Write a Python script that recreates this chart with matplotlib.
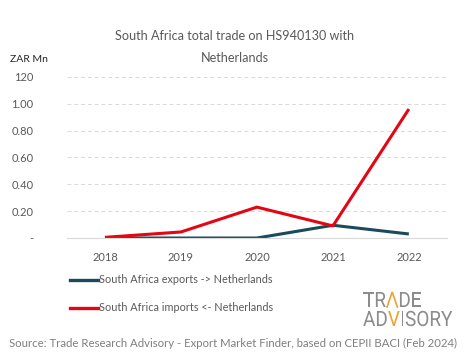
import matplotlib
matplotlib.use("Agg")
import matplotlib.pyplot as plt
from matplotlib.lines import Line2D
from matplotlib.textpath import TextPath, TextToPath
from matplotlib.font_manager import FontProperties
from matplotlib.patches import PathPatch
from matplotlib.transforms import Affine2D, IdentityTransform

years = ["2018", "2019", "2020", "2021", "2022"]
exports = [0.0, 0.0, 0.0, 0.095, 0.03]
imports = [0.005, 0.045, 0.23, 0.09, 0.96]
yticks = [0, 0.2, 0.4, 0.6, 0.8, 1.0, 1.2]
ytick_labels = ["-", "0.20", "0.40", "0.60", "0.80", "1.00", "120"]

plt.rcParams['font.family'] = ['Lato', 'DejaVu Sans']
grey = "#595959"
exp_col = "#1b4a5c"
imp_col = "#e30613"

W, H = 465, 359
fig = plt.figure(figsize=(W / 100, H / 100), dpi=100)
ax = fig.add_axes([0.144, 0.337, 0.817, 0.449])
x = list(range(len(years)))
ax.plot(x, exports, color=exp_col, lw=2.2, solid_capstyle='butt')
ax.plot(x, imports, color=imp_col, lw=2.2, solid_capstyle='butt')
ax.set_xlim(-0.5, 4.5)
ax.set_ylim(0, 1.2)
ax.set_yticks(yticks)
ax.set_yticklabels(ytick_labels)
ax.set_xticks(x)
ax.set_xticklabels(years)
ax.tick_params(length=0, labelsize=8, colors=grey, pad=10)
ax.tick_params(axis='y', pad=24)
ax.yaxis.grid(True, color="#d9d9d9", ls=(0, (4, 3)), lw=0.7)
ax.set_axisbelow(True)
for s in ["top", "right", "left"]:
    ax.spines[s].set_visible(False)
ax.spines["bottom"].set_color("#d9d9d9")
ax.spines["bottom"].set_linewidth(0.8)

fig.text(0.505, 0.9, "South Africa total trade on HS940130 with", ha="center", va="center", fontsize=9.1, color=grey)
fig.text(0.505, 0.838, "Netherlands", ha="center", va="center", fontsize=9.1, color=grey)
fig.text(0.022, 0.833, "ZAR Mn", ha="left", va="center", fontsize=7.5, color="#262626")

# legend
for yy, col, lab in [(0.221, exp_col, "South Africa exports -> Netherlands"),
                     (0.143, imp_col, "South Africa imports <- Netherlands")]:
    fig.add_artist(Line2D([0.151, 0.21], [yy, yy], color=col, lw=2.4, transform=fig.transFigure))
    fig.text(0.213, yy, lab, ha="left", va="center", fontsize=7.8, color=grey)

# logo drawn as scaled text paths
prop = FontProperties(family="Roboto", weight="normal")
t2p = TextToPath()
logo_grey = "#8c8c8c"
logo_orange = "#f0a030"
capH = 15.0
full_w = TextPath((0, 0), "ADVISORY", size=1, prop=prop).get_extents().width
sx = 89.0 / full_w
ref_h = TextPath((0, 0), "T", size=1, prop=prop).get_extents().height
sy = capH / ref_h

def adv(s):
    if not s:
        return 0.0
    return t2p.get_text_width_height_descent(s, prop, ismath=False)[0] / prop.get_size_in_points()

def draw_word(word, x0, ybase, orange_idx, lambda_idx=None):
    for i, ch in enumerate(word):
        off = adv(word[:i])
        tr = Affine2D().scale(sx, sy).translate(x0, ybase)
        if i == lambda_idx:
            ext = TextPath((off, 0), "A", size=1, prop=prop).get_extents()
            xs = [ext.x0 + 0.04, (ext.x0 + ext.x1) / 2, ext.x1 - 0.04]
            ys = [0, ext.y1, 0]
            pts = tr.transform(list(zip(xs, ys)))
            fig.add_artist(Line2D(pts[:, 0], pts[:, 1], color=logo_orange, lw=1.2,
                                  transform=IdentityTransform(), solid_joinstyle='miter'))
            continue
        tp = TextPath((off, 0), ch, size=1, prop=prop)
        col = logo_orange if i == orange_idx else logo_grey
        fig.add_artist(PathPatch(tr.transform_path(tp), facecolor=col, edgecolor="none",
                                 transform=IdentityTransform()))

draw_word("TRADE", 363, H - 307, None, lambda_idx=2)
draw_word("ADVISORY", 363, H - 326, 2)

fig.text(0.5, 0.043, "Source: Trade Research Advisory - Export Market Finder, based on CEPII BACI (Feb 2024)",
         ha="center", va="center", fontsize=8.2, color="#7f7f7f")

fig.savefig("out.png", dpi=100)
